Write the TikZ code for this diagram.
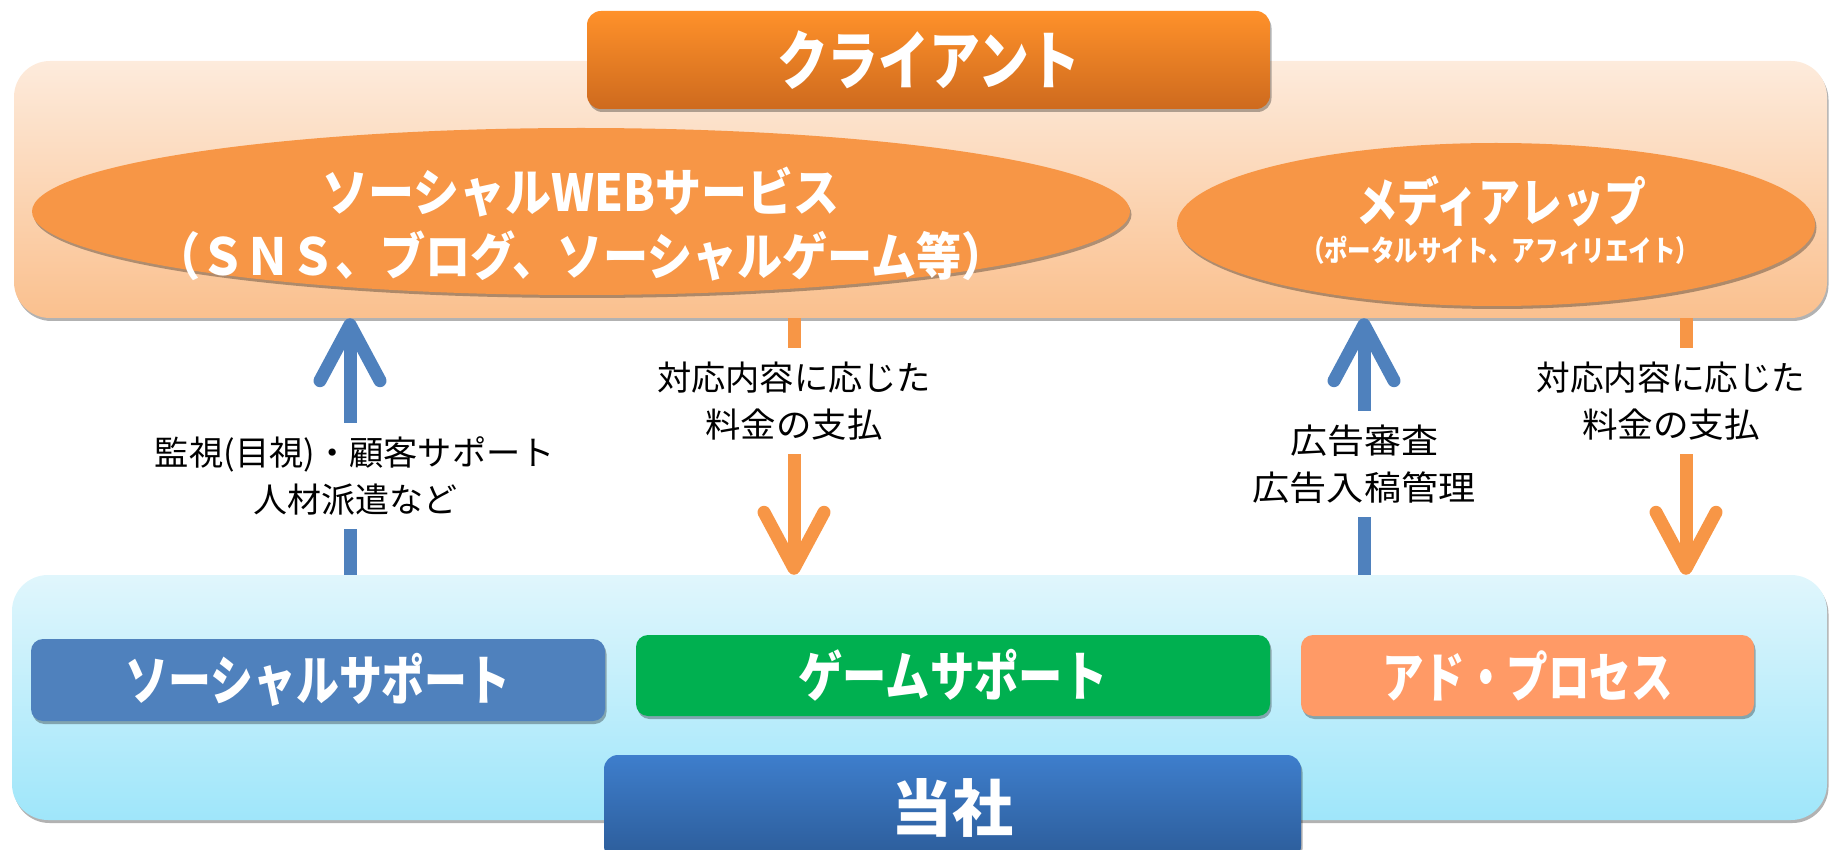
\documentclass[tikz,border=0pt]{standalone}
\usepackage{fontspec}
\usepackage{graphicx}
\usetikzlibrary{arrows.meta,shapes.geometric,shadows}
\newfontfamily\jp{Noto Sans CJK JP}
\newcommand\fitw[2]{\resizebox{#1pt}{\height}{#2}}
\definecolor{bandTopA}{HTML}{FDEBDC}
\definecolor{bandTopB}{HTML}{FAC08E}
\definecolor{bandBotA}{HTML}{E0F6FC}
\definecolor{bandBotB}{HTML}{9FE6FA}
\definecolor{cliA}{HTML}{FF912A}
\definecolor{cliB}{HTML}{CE6A1E}
\definecolor{ellc}{HTML}{F79646}
\definecolor{socblue}{HTML}{4F81BD}
\definecolor{gamegreen}{HTML}{00B050}
\definecolor{adorange}{HTML}{FF9A66}
\definecolor{ourA}{HTML}{3E7ECC}
\definecolor{ourB}{HTML}{2C5C99}
\definecolor{arrblue}{HTML}{4F81BD}
\definecolor{arrorange}{HTML}{F79646}
\tikzset{
  shad/.style={drop shadow={shadow xshift=1.5pt, shadow yshift=-3pt, opacity=0.3, fill=black}},
  band/.style={rectangle, rounded corners=36pt, inner sep=0pt, shad},
  boxnode/.style={rectangle, rounded corners=12pt, inner sep=0pt, text=white, shad},
  ell/.style={ellipse, fill=ellc, inner sep=0pt, shad},
  wtxt/.style={text=white, inner sep=0pt, align=center},
  arr/.style={line width=13pt, -{Straight Barb[length=56pt,width=60pt,round]}},
  barr/.style={arr, draw=arrblue},
  oarr/.style={arr, draw=arrorange},
  lab/.style={fill=white, inner xsep=4pt, inner ysep=14pt, align=center, text=black,
    font=\jp\fontsize{34}{47}\selectfont},
}
\begin{document}
\begin{tikzpicture}[x=1pt,y=-1pt]
\useasboundingbox (0,0) rectangle (1829,850);
% bands
\node[band, top color=bandTopA, bottom color=bandTopB, minimum width=1813pt, minimum height=257pt] (topband) at (920.5,189.5) {};
\node[band, top color=bandBotA, bottom color=bandBotB, minimum width=1815pt, minimum height=245pt] (botband) at (919.5,697.5) {};
% client
\node[boxnode, rounded corners=14pt, top color=cliA, bottom color=cliB, minimum width=683pt, minimum height=98pt,
  font=\jp\bfseries\fontsize{64}{64}\selectfont] (client) at (928.5,60) {\fitw{303}{クライアント}};
% ellipses
\node[ell, minimum width=1098pt, minimum height=167pt] (ell1) at (581,211.5) {};
\node[ell, minimum width=638pt, minimum height=163pt] (ell2) at (1496,224.5) {};
\node[wtxt, font=\jp\bfseries\fontsize{51}{64}\selectfont] (ell1txt) at (581,224)
  {\fitw{517}{ソーシャルWEBサービス}\\\fitw{852}{（ＳＮＳ、ブログ、ソーシャルゲーム等）}};
\node[wtxt, font=\jp\bfseries\fontsize{52}{52}\selectfont] (ell2txt) at (1501,201) {\fitw{290}{メディアレップ}};
\node[wtxt, font=\jp\bfseries\fontsize{29}{29}\selectfont] (ell2sub) at (1500,250) {\fitw{398}{（ポータルサイト、アフィリエイト）}};
% bottom boxes
\node[boxnode, fill=socblue, minimum width=574pt, minimum height=82pt,
  font=\jp\bfseries\fontsize{54}{54}\selectfont] (soc) at (318,680) {\fitw{385}{ソーシャルサポート}};
\node[boxnode, fill=gamegreen, minimum width=634pt, minimum height=81pt,
  font=\jp\bfseries\fontsize{54}{54}\selectfont] (game) at (953,675.5) {\fitw{309}{ゲームサポート}};
\node[boxnode, fill=adorange, minimum width=453pt, minimum height=81pt,
  font=\jp\bfseries\fontsize{54}{54}\selectfont] (ad) at (1527.5,675.5) {\fitw{291}{アド・プロセス}};
\node[boxnode, rounded corners=14pt, top color=ourA, bottom color=ourB, minimum width=697pt, minimum height=105pt,
  font=\jp\bfseries\fontsize{62}{62}\selectfont] (our) at (952.5,807.5) {\fitw{122}{当社}};
% arrow positions
\coordinate (a1) at (350,0);
\coordinate (a2) at (794,0);
\coordinate (a3) at (1364,0);
\coordinate (a4) at (1686,0);
\draw[barr] (botband.north -| a1) -- (topband.south -| a1);
\draw[oarr] (topband.south -| a2) -- (botband.north -| a2);
\draw[barr] (botband.north -| a3) -- (topband.south -| a3);
\draw[oarr] (topband.south -| a4) -- (botband.north -| a4);
% labels
\node[lab] (l1) at (355,476) {\fitw{400}{監視(目視)・顧客サポート}\\\fitw{204}{人材派遣など}};
\node[lab] (l2) at (794,401) {\fitw{274}{対応内容に応じた}\\\fitw{177}{料金の支払}};
\node[lab] (l3) at (1364,464) {\fitw{148}{広告審査}\\\fitw{223}{広告入稿管理}};
\node[lab] (l4) at (1671,401) {\fitw{269}{対応内容に応じた}\\\fitw{178}{料金の支払}};
\end{tikzpicture}
\end{document}
